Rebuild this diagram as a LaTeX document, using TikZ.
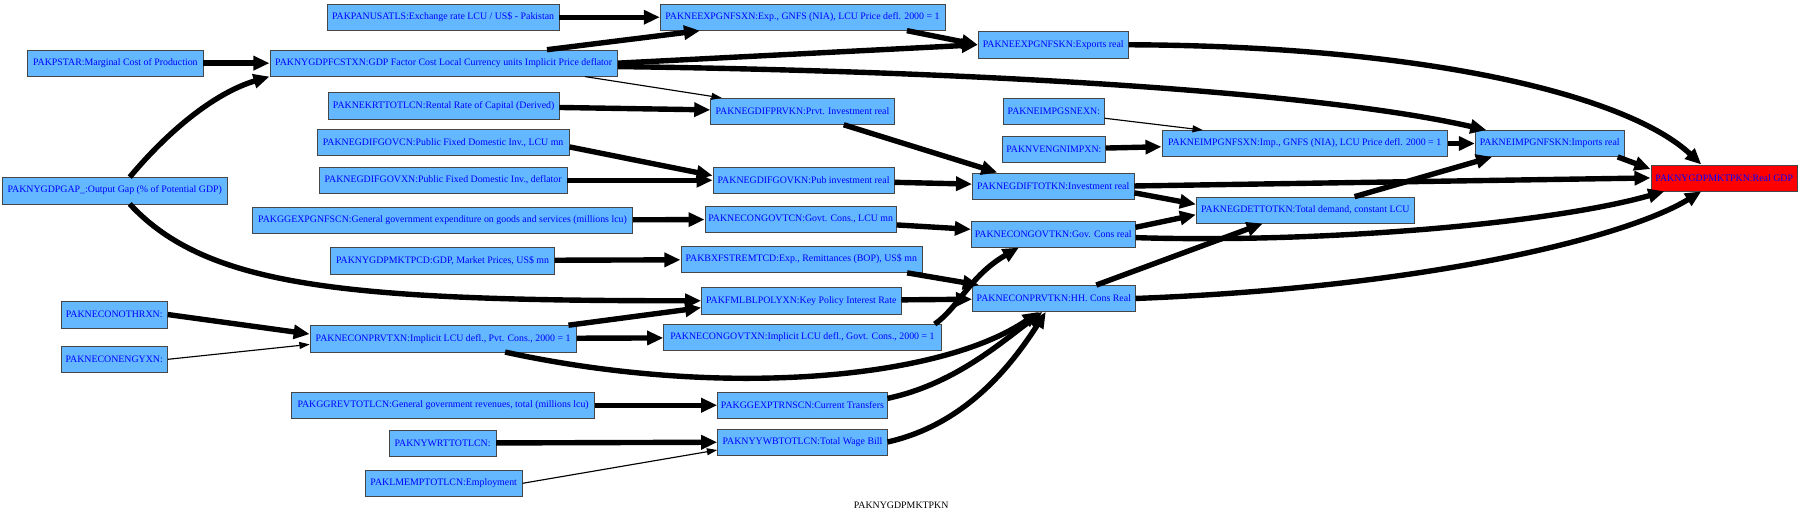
\documentclass[tikz,border=0pt]{standalone}
\usepackage{fontspec}
\setmainfont{Liberation Serif}
\usetikzlibrary{arrows.meta,calc}
\definecolor{boxblue}{RGB}{99,184,255}
\definecolor{boxline}{RGB}{70,70,70}
\newcommand{\gvfont}{\fontsize{8.6}{10}\selectfont}
\tikzset{
  var/.style ={draw=boxline, fill=boxblue, text=blue, font=\gvfont,
               minimum height=23, inner sep=1.5pt},
  goal/.style={var, fill=red},
  ar/.style  ={-{Triangle[length=14pt,width=12pt]}, line width=4.7pt},
  tar/.style ={-{Triangle[length=9pt,width=6pt]}, line width=1pt},
}

\begin{document}
\begin{tikzpicture}[x=1pt,y=-1pt]
\useasboundingbox (0,0) rectangle (1568,450);
% column 1
\node[var,minimum width=153] (pstar) at (100.5,55) {PAKPSTAR:Marginal Cost of Production};
\node[var,minimum width=196] (gap) at (100,166) {PAKNYGDPGAP\_:Output Gap (\% of Potential GDP)};
\node[var,minimum width=93] (conothrxn) at (99.5,274) {PAKNECONOTHRXN:};
\node[var,minimum width=93] (conengyxn) at (99.5,313) {PAKNECONENGYXN:};
% column 2
\node[var,minimum width=202] (panusatls) at (386,15) {PAKPANUSATLS:Exchange rate LCU / US\$ - Pakistan};
\node[var,minimum width=303] (fcstxn) at (386.5,55) {PAKNYGDPFCSTXN:GDP Factor Cost Local Currency units Implicit Price deflator};
\node[var,minimum width=201] (krttotlcn) at (386.5,92) {PAKNEKRTTOTLCN:Rental Rate of Capital (Derived)};
\node[var,minimum width=220] (govcn) at (386,124) {PAKNEGDIFGOVCN:Public Fixed Domestic Inv., LCU mn};
\node[var,minimum width=216] (govxn) at (386,157) {PAKNEGDIFGOVXN:Public Fixed Domestic Inv., deflator};
\node[var,minimum width=331] (gexpgnfscn) at (385.5,192) {PAKGGEXPGNFSCN:General government expenditure on goods and services (millions lcu)};
\node[var,minimum width=195] (mktpcd) at (385.5,227) {PAKNYGDPMKTPCD:GDP, Market Prices, US\$ mn};
\node[var,minimum width=232] (conprvtxn) at (386,295) {PAKNECONPRVTXN:Implicit LCU defl., Pvt. Cons., 2000 = 1};
\node[var,minimum width=264] (grevtotlcn) at (386,353) {PAKGGREVTOTLCN:General government revenues, total (millions lcu)};
\node[var,minimum width=93] (nywrttotlcn) at (385.5,386) {PAKNYWRTTOTLCN:};
\node[var,minimum width=137] (lmemptotlcn) at (386.5,421) {PAKLMEMPTOTLCN:Employment};
% column 3
\node[var,minimum width=248] (neexpxn) at (699,15) {PAKNEEXPGNFSXN:Exp., GNFS (NIA), LCU Price defl. 2000 = 1};
\node[var,minimum width=160] (prvkn) at (699,97) {PAKNEGDIFPRVKN:Prvt. Investment real};
\node[var,minimum width=158] (govkn) at (700,157) {PAKNEGDIFGOVKN:Pub investment real};
\node[var,minimum width=167] (congovtcn) at (697.5,191) {PAKNECONGOVTCN:Govt. Cons., LCU mn};
\node[var,minimum width=210] (bxf) at (698,226) {PAKBXFSTREMTCD:Exp., Remittances (BOP), US\$ mn};
\node[var,minimum width=174] (polyxn) at (698,262) {PAKFMLBLPOLYXN:Key Policy Interest Rate};
\node[var,minimum width=242] (congovtxn) at (699,294) {PAKNECONGOVTXN:Implicit LCU defl., Govt. Cons., 2000 = 1};
\node[var,minimum width=148] (gexptrnscn) at (699,353) {PAKGGEXPTRNSCN:Current Transfers};
\node[var,minimum width=148] (nyywbtotlcn) at (699,385) {PAKNYYWBTOTLCN:Total Wage Bill};
% column 4
\node[var,minimum width=131] (neexpkn) at (917.5,39) {PAKNEEXPGNFSKN:Exports real};
\node[var,minimum width=88] (impgsnexn) at (918,97) {PAKNEIMPGSNEXN:};
\node[var,minimum width=90] (vengnimpxn) at (918,130) {PAKNVENGNIMPXN:};
\node[var,minimum width=141] (difftotkn) at (917.5,162) {PAKNEGDIFTOTKN:Investment real};
\node[var,minimum width=143] (congovtkn) at (917.5,204) {PAKNECONGOVTKN:Gov. Cons real};
\node[var,minimum width=142] (conprvtkn) at (918,260) {PAKNECONPRVTKN:HH. Cons Real};
% columns 5 to 7
\node[var,minimum width=249] (impxn) at (1136.5,125) {PAKNEIMPGNFSXN:Imp., GNFS (NIA), LCU Price defl. 2000 = 1};
\node[var,minimum width=190] (detkn) at (1137,183) {PAKNEGDETTOTKN:Total demand, constant LCU};
\node[var,minimum width=130] (impkn) at (1350,125) {PAKNEIMPGNFSKN:Imports real};
\node[goal,minimum width=128] (mktpkn) at (1502,155) {PAKNYGDPMKTPKN:Real GDP};
\node[font=\gvfont] (caption) at (785,440) {PAKNYGDPMKTPKN};

% edges
\draw[ar] (pstar) -- (fcstxn);
\draw[ar] ($(gap.north)+(13,0)$) .. controls (150,110) and (190,80) .. (fcstxn.south west);
\draw[ar] ($(gap.south)+(13,0)$) .. controls (180,250) and (300,262) .. (polyxn.west);
\draw[ar] (conothrxn.east) -- ($(conprvtxn.west)+(0,-4)$);
\draw[tar] (conengyxn.east) -- ($(conprvtxn.west)+(0,5)$);
\draw[ar] (panusatls) -- (neexpxn);
\draw[ar] ($(fcstxn.north)+(90,0)$) -- ($(neexpxn.south west)+(35,0)$);
\draw[ar] (fcstxn.east) -- (neexpkn.west);
\draw[ar] ($(fcstxn.east)+(0,3)$) .. controls (850,62) and (1150,80) .. ($(impkn.north west)+(10,0)$);
\draw[tar] ($(fcstxn.south)+(123,0)$) -- ($(prvkn.north west)+(10,0)$);
\draw[ar] (krttotlcn) -- (prvkn);
\draw[ar] ($(govcn.east)+(0,4)$) -- ($(govkn.west)+(0,-4)$);
\draw[ar] (govxn) -- (govkn);
\draw[ar] (gexpgnfscn) -- (congovtcn);
\draw[ar] (mktpcd) -- (bxf);
\draw[ar] ($(conprvtxn.north east)+(-7,0)$) -- ($(polyxn.west)+(0,6)$);
\draw[ar] (conprvtxn) -- (congovtxn);
\draw[ar] ($(conprvtxn.south)+(54,0)$) .. controls (630,348) and (820,330) .. ($(conprvtkn.south)+(-13,0)$);
\draw[ar] (grevtotlcn) -- (gexptrnscn);
\draw[ar] (nywrttotlcn) -- (nyywbtotlcn);
\draw[tar] (lmemptotlcn.east) -- ($(nyywbtotlcn.west)+(0,7)$);
\draw[ar] ($(neexpxn.south)+(91,0)$) -- (neexpkn.west);
\draw[ar] ($(prvkn.south)+(36,0)$) -- ($(difftotkn.north west)+(22,0)$);
\draw[ar] (govkn) -- (difftotkn);
\draw[ar] (congovtcn) -- (congovtkn);
\draw[ar] ($(bxf.south east)+(-13,0)$) -- ($(conprvtkn.north west)+(6,0)$);
\draw[ar] (polyxn) -- (conprvtkn);
\draw[ar] ($(congovtxn.north east)+(-6,0)$) .. controls (835,268) and (845,240) .. ($(congovtkn.south)+(-30,0)$);
\draw[ar] ($(gexptrnscn.east)+(0,-6)$) .. controls (830,335) and (870,300) .. ($(conprvtkn.south)+(-10,0)$);
\draw[ar] (nyywbtotlcn.east) .. controls (840,370) and (880,320) .. ($(conprvtkn.south)+(-7,0)$);
\draw[ar] (neexpkn.east) .. controls (1250,40) and (1420,85) .. ($(mktpkn.north)+(-20,0)$);
\draw[tar] ($(impgsnexn.east)+(0,6)$) -- ($(impxn.north west)+(36,0)$);
\draw[ar] (vengnimpxn) -- (impxn);
\draw[ar] (difftotkn.east) -- (mktpkn.west);
\draw[ar] ($(difftotkn.east)+(0,6)$) -- ($(detkn.west)+(0,-5)$);
\draw[ar] ($(congovtkn.east)+(0,-6)$) -- ($(detkn.west)+(0,4)$);
\draw[ar] ($(congovtkn.east)+(0,3)$) .. controls (1150,212) and (1350,195) .. ($(mktpkn.south west)+(12,0)$);
\draw[ar] ($(conprvtkn.north)+(37,0)$) -- ($(detkn.south)+(-37,0)$);
\draw[ar] (conprvtkn.east) .. controls (1250,250) and (1420,205) .. ($(mktpkn.south)+(-20,0)$);
\draw[ar] (impxn) -- (impkn);
\draw[ar] ($(detkn.north)+(43,0)$) -- ($(impkn.south west)+(15,0)$);
\draw[ar] ($(impkn.south east)+(-6,0)$) -- ($(mktpkn.north west)+(0,4)$);
\end{tikzpicture}
\end{document}
